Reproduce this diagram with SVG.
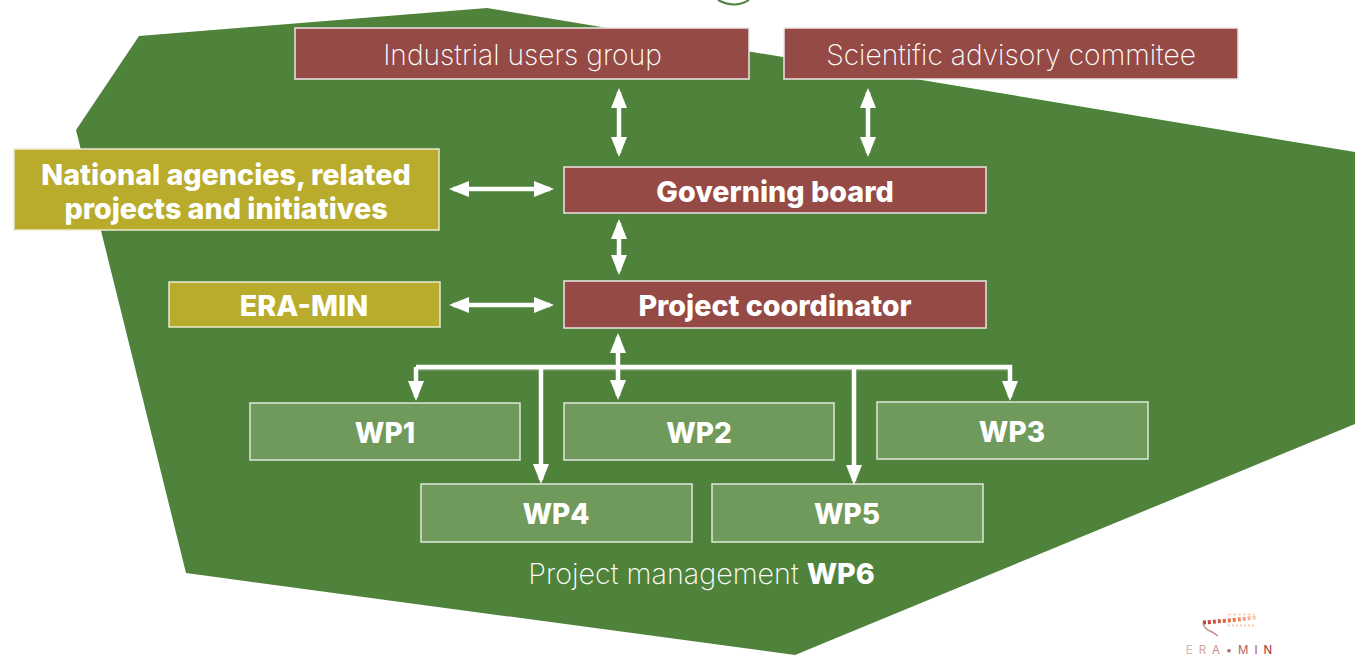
<svg xmlns="http://www.w3.org/2000/svg" width="1355" height="655" viewBox="0 0 1355 655">
<defs>
<marker id="ah" markerUnits="userSpaceOnUse" markerWidth="22" markerHeight="18" refX="16" refY="8" orient="auto-start-reverse"><path d="M0,0 L20,8 L0,16 Z" fill="#fff"/></marker>
<linearGradient id="lg" gradientUnits="userSpaceOnUse" x1="1202" y1="0" x2="1258" y2="0"><stop offset="0" stop-color="#b23c32"/><stop offset="0.6" stop-color="#ee7a4e"/><stop offset="1" stop-color="#fbdccb"/></linearGradient>
</defs>
<style>
text{font-family:"Inter","Liberation Sans",sans-serif;fill:#fff;text-anchor:middle}
.red{fill:#954a45;stroke:#ece6e5;stroke-width:1.5}
.yel{fill:#b9ac2c;stroke:#ece9cf;stroke-width:1.5}
.wp{fill:#6f9a5b;stroke:#dfe8da;stroke-width:1.5}
.l{font-size:28.2px;font-weight:200}
.b{font-size:28.7px;font-weight:800}
.w{font-size:28px;font-weight:800}
.c{fill:none;stroke:#fff;stroke-width:4.5}
</style>
<rect width="1355" height="655" fill="#fff"/>
<polygon points="139,36 487,8 1355,152 1355,424 795,655 186,573 76,130" fill="#4f833c"/>
<path d="M718,0 Q735,9 749,0" fill="none" stroke="#4f833c" stroke-width="2"/>
<g id="industrial"><rect class="red" x="295" y="28" width="454" height="51"/><text class="l" x="522.5" y="65">Industrial users group</text></g>
<g id="scientific"><rect class="red" x="784" y="28" width="454" height="51"/><text class="l" x="1011" y="65">Scientific advisory commitee</text></g>
<g id="national"><rect class="yel" x="14" y="149" width="425" height="81"/><text class="b" x="226" y="185">National agencies, related</text><text class="b" x="226" y="219">projects and initiatives</text></g>
<g id="governing"><rect class="red" x="564" y="167" width="422" height="46"/><text class="b" x="775" y="202">Governing board</text></g>
<g id="eramin"><rect class="yel" x="169" y="282" width="271" height="45"/><text class="b" x="304" y="316">ERA-MIN</text></g>
<g id="coordinator"><rect class="red" x="564" y="281" width="422" height="47"/><text class="b" x="775" y="316">Project coordinator</text></g>
<g id="wp1"><rect class="wp" x="250" y="403" width="270" height="57"/><text class="w" x="385" y="443">WP1</text></g>
<g id="wp2"><rect class="wp" x="564" y="403" width="270" height="57"/><text class="w" x="699" y="443">WP2</text></g>
<g id="wp3"><rect class="wp" x="877" y="402" width="271" height="57"/><text class="w" x="1012" y="442">WP3</text></g>
<g id="wp4"><rect class="wp" x="421" y="484" width="271" height="58"/><text class="w" x="556" y="524">WP4</text></g>
<g id="wp5"><rect class="wp" x="712" y="484" width="271" height="58"/><text class="w" x="847" y="524">WP5</text></g>
<g id="connectors">
<path d="M418,369.5 H1008" fill="none" stroke="#fff" stroke-opacity="0.35" stroke-width="2"/>
<path class="c" marker-start="url(#ah)" marker-end="url(#ah)" d="M619,92 V153"/>
<path class="c" marker-start="url(#ah)" marker-end="url(#ah)" d="M868,92 V153"/>
<path class="c" marker-start="url(#ah)" marker-end="url(#ah)" d="M453,189 H550"/>
<path class="c" marker-start="url(#ah)" marker-end="url(#ah)" d="M619,223 V271"/>
<path class="c" marker-start="url(#ah)" marker-end="url(#ah)" d="M453,305 H550"/>
<path class="c" marker-start="url(#ah)" marker-end="url(#ah)" d="M618,337 V396"/>
<path class="c" marker-end="url(#ah)" d="M416,367 V397"/>
<path class="c" marker-end="url(#ah)" d="M416,367 H1010 V397"/>
<path class="c" marker-end="url(#ah)" d="M541,367 V480"/>
<path class="c" marker-end="url(#ah)" d="M854,367 V481"/>
</g>
<text x="701.5" y="584" font-size="28.7" font-weight="200">Project management <tspan font-weight="800">WP6</tspan></text>
<g id="logo">
<path d="M1228,614.5 H1255" fill="none" stroke="#f6c9b2" stroke-width="1.5" stroke-dasharray="3 2"/>
<path d="M1203,622.5 Q1225,621 1256,617.5" fill="none" stroke="url(#lg)" stroke-width="4" stroke-dasharray="3 2"/>
<path d="M1228,625.5 H1255" fill="none" stroke="#f6c9b2" stroke-width="2" stroke-dasharray="2 2"/>
<path d="M1203,623 Q1204,629 1212,632 L1218,636" fill="none" stroke="#c9817c" stroke-width="1.5"/>
<text x="1232" y="654" font-size="11.5" letter-spacing="6" style="font-weight:400"><tspan style="fill:#d9b3ae">E</tspan><tspan style="fill:#d3a29d">R</tspan><tspan style="fill:#c98c86">A</tspan><tspan style="fill:#bd6a66">•</tspan><tspan style="fill:#bb5e5a">M</tspan><tspan style="fill:#b04a48">I</tspan><tspan style="fill:#a8302f">N</tspan></text>
</g>
</svg>
